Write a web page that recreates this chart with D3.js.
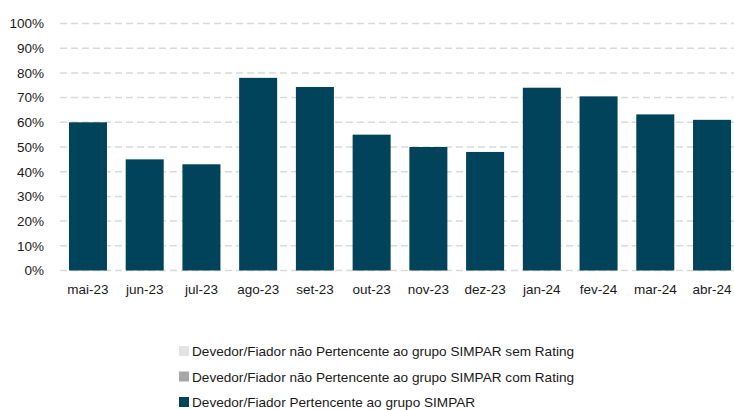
<!DOCTYPE html>
<html>
<head>
<meta charset="utf-8">
<script src="https://cdn.jsdelivr.net/npm/d3@7"></script>
<style>
  body { margin: 0; background: #fff; }
  svg { display: block; font-family: "Liberation Sans", Arial, sans-serif; }
  .axis text { fill: #1a1a1a; font-size: 13.5px; }
</style>
</head>
<body>
<div id="chart"></div>
<script>
// months on the x axis
const months = ["mai-23", "jun-23", "jul-23", "ago-23", "set-23", "out-23",
                "nov-23", "dez-23", "jan-24", "fev-24", "mar-24", "abr-24"];
// share of the SIMPAR group (%)
const simpar = [60, 45, 43, 78, 74.3, 55, 50, 48, 74, 70.5, 63.2, 61];
const yTicks = [0, 10, 20, 30, 40, 50, 60, 70, 80, 90, 100];
const legendLabels = [
  "Devedor/Fiador não Pertencente ao grupo SIMPAR sem Rating",
  "Devedor/Fiador não Pertencente ao grupo SIMPAR com Rating",
  "Devedor/Fiador Pertencente ao grupo SIMPAR"
];
const legendColors = ["#e3e3e3", "#a8a6a6", "#00435a"];

const svgWidth = 734, svgHeight = 410;
const svg = d3.select("#chart").append("svg")
    .attr("width", svgWidth)
    .attr("height", svgHeight);

const x = d3.scaleBand()
    .domain(months)
    .range([59.6, 740.4])
    .paddingInner(0.33)
    .paddingOuter(0.165);

const y = d3.scaleLinear()
    .domain([0, 100])
    .range([270.5, 23.5]);

// dashed gridlines
svg.append("g")
    .selectAll("line")
    .data(yTicks)
    .join("line")
    .attr("x1", 60)
    .attr("x2", svgWidth)
    .attr("y1", d => y(d))
    .attr("y2", d => y(d))
    .attr("stroke", "#d9d9d9")
    .attr("stroke-width", 1.5)
    .attr("stroke-dasharray", "7,4");

// y axis labels
svg.append("g")
    .attr("class", "axis")
    .attr("transform", "translate(46,0)")
    .call(d3.axisLeft(y).tickValues(yTicks).tickFormat(d => d + "%").tickSize(0).tickPadding(2))
    .call(g => g.select(".domain").remove());

// bars
svg.append("g")
    .selectAll("rect")
    .data(simpar)
    .join("rect")
    .attr("x", (d, i) => x(months[i]))
    .attr("width", x.bandwidth())
    .attr("y", d => y(d))
    .attr("height", d => y(0) - y(d))
    .attr("fill", "#00435a");

// x axis labels
svg.append("g")
    .attr("class", "axis")
    .attr("transform", `translate(0,${y(0)})`)
    .call(d3.axisBottom(x).tickSize(0).tickPadding(14))
    .call(g => g.select(".domain").remove());

// legend
const legend = svg.append("g")
    .selectAll("g")
    .data(legendLabels)
    .join("g")
    .attr("transform", (d, i) => `translate(179,${351 + i * 25.5})`);

legend.append("rect")
    .attr("x", 0)
    .attr("y", -5)
    .attr("width", 10)
    .attr("height", 10)
    .attr("fill", (d, i) => legendColors[i]);

legend.append("text")
    .attr("x", 13)
    .attr("y", 5)
    .attr("font-size", "13.6px")
    .attr("fill", "#1a1a1a")
    .text(d => d);
</script>
</body>
</html>
